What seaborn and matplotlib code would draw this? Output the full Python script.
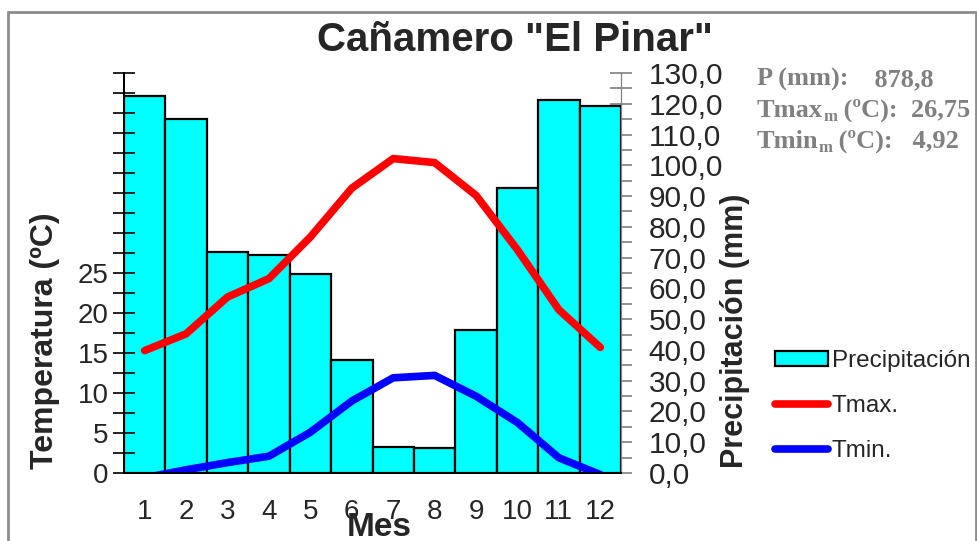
import numpy as np
import pandas as pd
import matplotlib
matplotlib.use("Agg")
import matplotlib.pyplot as plt
import seaborn as sns
from matplotlib.patches import Patch, Rectangle
from matplotlib.lines import Line2D
from matplotlib.ticker import MultipleLocator, FixedLocator

# Climograma data
months = [1, 2, 3, 4, 5, 6, 7, 8, 9, 10, 11, 12]
precip = [122.5, 115.0, 71.8, 71.0, 64.6, 36.6, 8.6, 8.2, 46.5, 92.5, 121.3, 119.2]
tmax = [15.3, 17.4, 22.0, 24.3, 29.5, 35.6, 39.3, 38.8, 34.7, 27.9, 20.4, 15.7]
tmin = [-0.6, 0.4, 1.3, 2.1, 5.1, 9.0, 11.9, 12.2, 9.6, 6.3, 1.9, -0.2]
temp_ticks = [0, 5, 10, 15, 20, 25]
stats = [("P (mm):", "", "    878,8"), ("Tmax", "m", " (ºC):  26,75"), ("Tmin", "m", " (ºC):   4,92")]

df = pd.DataFrame({"Mes": months, "P": precip, "Tmax": tmax, "Tmin": tmin})

sns.set_style("white")
plt.rcParams["font.family"] = ["Liberation Sans", "DejaVu Sans"]

W, H = 977, 541
fig = plt.figure(figsize=(W / 100, H / 100), dpi=100)
ax = fig.add_axes([124 / W, 1 - 473 / H, (621 - 124) / W, 400 / H])
ax2 = ax.twinx()

# precipitation bars (right axis)
sns.barplot(data=df, x="Mes", y="P", native_scale=True, width=1, color="#00FFFF",
            saturation=1, edgecolor="black", linewidth=1.6, ax=ax)
ax.set_xlim(0.5, 12.5)
ax.set_ylim(0, 130)
ax.yaxis.tick_right()
ax.yaxis.set_major_locator(MultipleLocator(10))
ax.yaxis.set_minor_locator(MultipleLocator(5))
ax.yaxis.set_major_formatter(lambda v, p: f"{v:.1f}".replace(".", ","))
ax.tick_params(axis="y", which="both", direction="inout", length=16, width=1.2,
               color="#808080", labelsize=21.5, pad=12, right=True, left=False,
               labelright=True, labelleft=False)
ax.set_xticks(months)
ax.set_xticklabels([str(m) for m in months])
ax.xaxis.set_minor_locator(FixedLocator(np.arange(0.5, 13, 1)))
ax.tick_params(axis="x", which="major", length=0, labelsize=20, pad=19)
ax.tick_params(axis="x", which="minor", direction="out", length=8, width=1.2, color="black")
ax.set_xlabel("")
ax.set_ylabel("")

# temperature lines (left axis)
sns.lineplot(data=df, x="Mes", y="Tmax", color="#FF0000", linewidth=5.5,
             solid_capstyle="round", ax=ax2)
sns.lineplot(data=df, x="Mes", y="Tmin", color="#0000FF", linewidth=5.5,
             solid_capstyle="round", ax=ax2)
ax2.set_ylim(0, 50)
ax2.yaxis.tick_left()
ax2.yaxis.set_major_locator(MultipleLocator(5))
ax2.yaxis.set_major_formatter(lambda v, p: f"{v:.0f}" if v in temp_ticks else "")
ax2.yaxis.set_minor_locator(MultipleLocator(2.5))
ax2.tick_params(axis="y", which="both", direction="inout", length=16, width=1.2,
                color="black", labelsize=20, pad=3, left=True, right=False,
                labelleft=True, labelright=False)
ax2.set_xlabel("")
ax2.set_ylabel("")

for a in (ax, ax2):
    a.spines["top"].set_visible(False)
    a.spines["left"].set_color("black")
    a.spines["bottom"].set_color("black")
    a.spines["right"].set_color("#808080")
    a.spines["left"].set_linewidth(1.3)
    a.spines["bottom"].set_linewidth(1.3)

# titles and axis labels
fig.text(515 / W, 1 - 40 / H, 'Cañamero "El Pinar"', ha="center", va="center",
         fontsize=29, fontweight="bold")
fig.text(45 / W, 1 - 341 / H, "Temperatura (ºC)", rotation=90, ha="center", va="center",
         fontsize=23, fontweight="bold")
fig.text(735 / W, 1 - 331 / H, "Precipitación (mm)", rotation=90, ha="center", va="center",
         fontsize=22, fontweight="bold")
fig.text(379 / W, 1 - 528 / H, "Mes", ha="center", va="center", fontsize=24, fontweight="bold")

# stats block
gray = "#808080"
serif = dict(family=["Liberation Serif", "DejaVu Serif"], fontweight="bold", color=gray)
for i, (name, sub, rest) in enumerate(stats):
    y = 1 - (86 + i * 31) / H
    t1 = fig.text(757 / W, y, name, fontsize=19, va="baseline", **serif)
    anchor = t1
    if sub:
        anchor = ax.annotate(sub, xy=(1, 0), xycoords=t1, xytext=(0, -2),
                             textcoords="offset points", va="bottom", fontsize=12,
                             annotation_clip=False, **serif)
    ax.annotate(rest, xy=(1, 0), xycoords=(anchor, t1), va="bottom", fontsize=19,
                annotation_clip=False, **serif)

# legend
handles = [Patch(facecolor="#00FFFF", edgecolor="black", linewidth=1.6),
           Line2D([], [], color="#FF0000", linewidth=5.5, solid_capstyle="round"),
           Line2D([], [], color="#0000FF", linewidth=5.5, solid_capstyle="round")]
fig.legend(handles, ["Precipitación", "Tmax.", "Tmin."], loc="center left",
           bbox_to_anchor=(765 / W, 1 - 406 / H), frameon=False, fontsize=17.5,
           handlelength=2.2, handleheight=0.6, handletextpad=0.15, labelspacing=0.95,
           borderaxespad=0)

# outer frame
fig.patches.append(Rectangle((8 / W, -0.05), (976 - 8) / W, 1.05 - 12 / H,
                             transform=fig.transFigure, fill=False,
                             edgecolor="#8c8c8c", linewidth=2, figure=fig))

fig.savefig("out.png", dpi=100)
